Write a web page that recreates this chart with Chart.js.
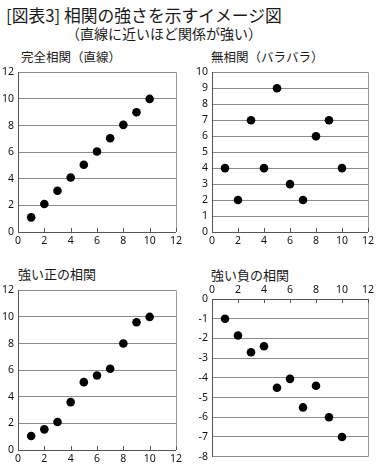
<!DOCTYPE html>
<html><head><meta charset="utf-8">
<script src="https://cdn.jsdelivr.net/npm/chart.js@4.4.0/dist/chart.umd.min.js"></script>
<style>
html,body{margin:0;padding:0;background:#fff;width:382px;height:467px;overflow:hidden;}
body{position:relative;font-family:"Noto Sans CJK JP","Noto Sans",sans-serif;color:#1a1a1a;}
.t{position:absolute;white-space:nowrap;line-height:1;}
canvas{position:absolute;}
</style></head>
<body>
<div class="t" style="left:6px;top:7px;font-size:16.8px;">[図表3] 相関の強さを示すイメージ図</div>
<div class="t" style="left:66px;top:26px;font-size:14px;">（直線に近いほど関係が強い）</div>
<div class="t" style="left:21px;top:51px;font-size:12.5px;">完全相関（直線）</div>
<div class="t" style="left:211px;top:51px;font-size:12.5px;">無相関（バラバラ）</div>
<div class="t" style="left:18px;top:267px;font-size:13px;">強い正の相関</div>
<div class="t" style="left:211px;top:268px;font-size:13px;">強い負の相関</div>
<canvas id="c1" width="185" height="190" style="left:0;top:62px;"></canvas>
<canvas id="c2" width="185" height="190" style="left:192px;top:62px;"></canvas>
<canvas id="c3" width="185" height="187" style="left:0;top:280px;"></canvas>
<canvas id="c4" width="185" height="184" style="left:192px;top:283px;"></canvas>
<script>
// ---- data ----
const xValues = [1, 2, 3, 4, 5, 6, 7, 8, 9, 10];
const perfectY = [1.1, 2.1, 3.1, 4.1, 5.05, 6.05, 7.05, 8.05, 9.0, 10.0];
const noneY = [4, 2, 7, 4, 9, 3, 2, 6, 7, 4];
const strongPosY = [1.05, 1.55, 2.1, 3.6, 5.1, 5.6, 6.1, 8.0, 9.6, 10.0];
const strongNegY = [-1.0, -1.85, -2.7, -2.4, -4.5, -4.05, -5.5, -4.4, -6.0, -7.0];
const xTicks = [0, 2, 4, 6, 8, 10, 12];
const yTicks1 = [0, 2, 4, 6, 8, 10, 12];
const yTicks2 = [0, 1, 2, 3, 4, 5, 6, 7, 8, 9, 10];
const yTicks3 = [0, 2, 4, 6, 8, 10, 12];
const yTicks4 = [0, -1, -2, -3, -4, -5, -6, -7, -8];

const frame = {
  id: 'frame',
  afterDraw(chart, args, o) {
    const {ctx, chartArea: a, scales: {x}} = chart;
    ctx.save();
    ctx.strokeStyle = '#9a9a9a';
    ctx.lineWidth = 1;
    ctx.beginPath();
    ctx.moveTo(Math.round(a.right) + 0.5, a.top);
    ctx.lineTo(Math.round(a.right) + 0.5, a.bottom);
    ctx.stroke();
    ctx.strokeStyle = '#555';
    const top = o.top;
    ctx.beginPath();
    for (const v of xTicks) {
      const px = Math.round(x.getPixelForValue(v)) + 0.5;
      if (top) { ctx.moveTo(px, a.top); ctx.lineTo(px, a.top + 4); }
      else { ctx.moveTo(px, a.bottom); ctx.lineTo(px, a.bottom - 4); }
    }
    ctx.stroke();
    ctx.restore();
  }
};

function makeChart(id, ys, yTicks, opts) {
  const pts = xValues.map((x, i) => ({x: x, y: ys[i]}));
  const tickFont = {family: '"Noto Sans", sans-serif', size: 10.5};
  const yMin = Math.min(...yTicks), yMax = Math.max(...yTicks);
  return new Chart(document.getElementById(id), {
    type: 'scatter',
    data: {datasets: [{data: pts, backgroundColor: '#000', borderWidth: 0, pointRadius: 4.3, pointHoverRadius: 4.3}]},
    plugins: [frame],
    options: {
      responsive: false, animation: false,
      layout: {padding: opts.padding},
      plugins: {legend: {display: false}, tooltip: {enabled: false}, frame: {top: opts.xTop}},
      scales: {
        x: {
          type: 'linear', position: opts.xTop ? 'top' : 'bottom', min: 0, max: 12,
          afterBuildTicks(s) { s.ticks = xTicks.map(v => ({value: v})); },
          afterFit(s) { s.height = opts.xh; },
          grid: {display: true, drawOnChartArea: false, drawTicks: false, color: 'rgba(0,0,0,0)'},
          border: {display: true, color: '#555', width: 1},
          ticks: {color: '#111', font: tickFont, padding: 3, maxRotation: 0, autoSkip: false}
        },
        y: {
          type: 'linear', min: yMin, max: yMax,
          afterBuildTicks(s) { s.ticks = yTicks.slice().sort((a, b) => a - b).map(v => ({value: v})); },
          afterFit(s) { s.width = opts.yw; },
          grid: {display: true, drawTicks: false, color: '#8c8c8c', lineWidth: 1},
          border: {display: true, color: '#555', width: 1},
          ticks: {color: '#111', font: tickFont, padding: 4, autoSkip: false}
        }
      }
    }
  });
}

makeChart('c1', perfectY, yTicks1, {padding: {top: 8, right: 6, left: 0, bottom: 0}, xh: 20, yw: 18, xTop: false});
makeChart('c2', noneY, yTicks2, {padding: {top: 8, right: 4, left: 0, bottom: 0}, xh: 20, yw: 20, xTop: false});
makeChart('c3', strongPosY, yTicks3, {padding: {top: 8, right: 5, left: 0, bottom: 0}, xh: 17, yw: 18, xTop: false});
makeChart('c4', strongNegY, yTicks4, {padding: {top: 0, right: 4, left: 0, bottom: 7}, xh: 16, yw: 20, xTop: true});
</script>
</body></html>
